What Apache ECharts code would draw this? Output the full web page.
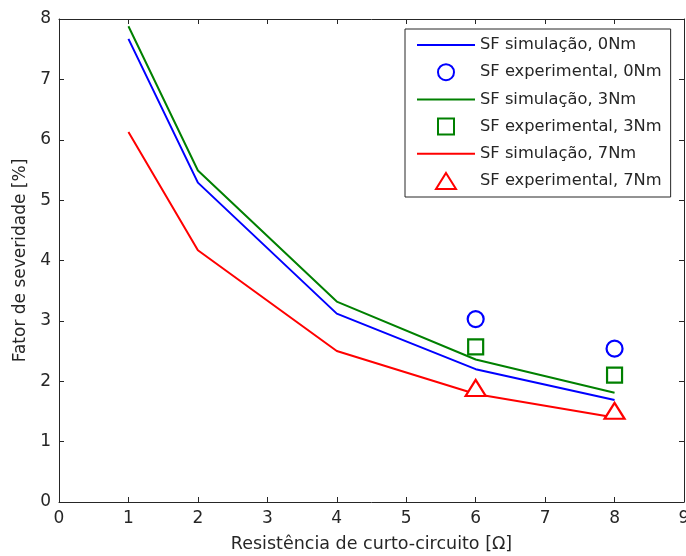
<!DOCTYPE html>
<html>
<head>
<meta charset="utf-8">
<script src="https://cdn.jsdelivr.net/npm/echarts@6/dist/echarts.min.js"></script>
<style>
    html, body { margin: 0; padding: 0; background: #fff; }
    #chart { width: 686px; height: 556px; }
</style>
</head>
<body>
<div id="chart"></div>
<script>
// dados
const xSim = [1, 2, 4, 6, 8]
const sim0 = [7.67, 5.29, 3.12, 2.2, 1.69]
const sim3 = [7.88, 5.49, 3.32, 2.36, 1.81]
const sim7 = [6.13, 4.17, 2.5, 1.79, 1.4]

const xExp = [6, 8]
const exp0 = [3.03, 2.54]
const exp3 = [2.57, 2.1]
const exp7 = [1.89, 1.51]

const names = ['SF simulação, 0Nm', 'SF experimental, 0Nm', 'SF simulação, 3Nm',
    'SF experimental, 3Nm', 'SF simulação, 7Nm', 'SF experimental, 7Nm']

const font = 'DejaVu Sans'
const ink = '#262626'

// ícones da legenda (estilo matlab)
const iconLine = 'path://M0,0 H58 V2 H0 Z'
const iconCircle = 'path://M8,0 A8,8 0 1,1 8,16 A8,8 0 1,1 8,0 Z'
const iconSquare = 'path://M0,0 H15 V15 H0 Z'
const iconTriangle = 'path://M10,0 L20,16 L0,16 Z'

function pairs(xs, ys) {
    return xs.map((x, i) => [x, ys[i]])
}

function lineSeries(name, ys, color) {
    return {
        name: name,
        type: 'line',
        data: pairs(xSim, ys),
        symbol: 'none',
        lineStyle: { color: color, width: 2 },
        itemStyle: { color: color },
        z: 2
    }
}

function expSeries(name, ys, color, symbol, size) {
    return {
        name: name,
        type: 'scatter',
        data: pairs(xExp, ys),
        symbol: symbol,
        symbolSize: size,
        itemStyle: { color: '#fff', borderColor: color, borderWidth: 2.2, opacity: 1 },
        z: 3
    }
}

let chart = echarts.init(document.getElementById('chart'))
let option = {
    animation: false,
    backgroundColor: '#fff',
    textStyle: { fontFamily: font },
    grid: { left: 59, right: 2, top: 19, bottom: 54, outerBoundsMode: 'none' },
    legend: {
        orient: 'vertical',
        left: 405,
        top: 29,
        padding: [8, 9, 7, 12],
        itemWidth: 58,
        itemHeight: 16,
        itemGap: 10.2,
        backgroundColor: '#fff',
        borderColor: ink,
        borderWidth: 1,
        textStyle: { fontFamily: font, fontSize: 16.3, lineHeight: 16, color: ink },
        data: [
            { name: names[0], icon: iconLine },
            { name: names[1], icon: iconCircle },
            { name: names[2], icon: iconLine },
            { name: names[3], icon: iconSquare },
            { name: names[4], icon: iconLine },
            { name: names[5], icon: iconTriangle }
        ]
    },
    xAxis: [{
        type: 'value',
        min: 0, max: 9, interval: 1,
        name: 'Resistência de curto-circuito [Ω]',
        nameLocation: 'middle',
        nameGap: 33,
        nameTextStyle: { fontSize: 17.5, color: ink },
        axisLine: { lineStyle: { color: ink, width: 1 } },
        axisTick: { inside: true, length: 5, lineStyle: { color: ink } },
        axisLabel: { fontSize: 17, color: ink, margin: 8 },
        splitLine: { show: false }
    }, {
        type: 'value',
        position: 'top',
        min: 0, max: 9, interval: 1,
        axisLine: { show: true, onZero: false, lineStyle: { color: ink, width: 1 } },
        axisTick: { inside: true, length: 5, lineStyle: { color: ink } },
        axisLabel: { show: false },
        splitLine: { show: false }
    }],
    yAxis: [{
        type: 'value',
        min: 0, max: 8, interval: 1,
        name: 'Fator de severidade [%]',
        nameLocation: 'middle',
        nameGap: 30,
        nameTextStyle: { fontSize: 17, color: ink },
        axisLine: { show: true, lineStyle: { color: ink, width: 1 } },
        axisTick: { show: true, inside: true, length: 5, lineStyle: { color: ink } },
        axisLabel: { fontSize: 17, color: ink, margin: 8 },
        splitLine: { show: false }
    }, {
        type: 'value',
        position: 'right',
        min: 0, max: 8, interval: 1,
        axisLine: { show: true, onZero: false, lineStyle: { color: ink, width: 1 } },
        axisTick: { show: true, inside: true, length: 5, lineStyle: { color: ink } },
        axisLabel: { show: false },
        splitLine: { show: false }
    }],
    series: [
        lineSeries(names[0], sim0, '#0000ff'),
        expSeries(names[1], exp0, '#0000ff', 'circle', 16),
        lineSeries(names[2], sim3, '#008000'),
        expSeries(names[3], exp3, '#008000', 'rect', 15),
        lineSeries(names[4], sim7, '#ff0000'),
        expSeries(names[5], exp7, '#ff0000', 'triangle', [20, 16])
    ]
}
chart.setOption(option)
</script>
</body>
</html>
